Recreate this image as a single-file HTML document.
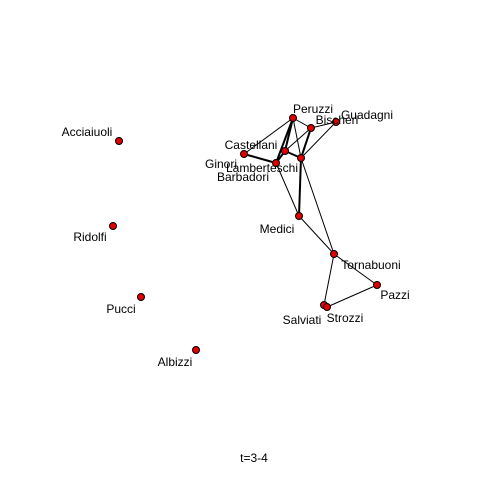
<!DOCTYPE html>
<html><head><meta charset="utf-8"><style>
html,body{margin:0;padding:0;background:#fff}
svg text{font-family:"Liberation Sans",Arial,sans-serif;font-size:12px;fill:#000}
</style></head><body>
<svg width="480" height="480" viewBox="0 0 480 480">
<rect width="480" height="480" fill="#fff"/>
<g id="edges"></g>
<g id="nodes"></g>
<text x="254" y="462" text-anchor="middle">t=3-4</text>
</svg>
<script>
const names=["Peruzzi","Bischeri","Guadagni","Castellani","Ginori","Barbadori","Lamberteschi","Medici","Tornabuoni","Pazzi","Salviati","Strozzi","Acciaiuoli","Ridolfi","Pucci","Albizzi"];
const xs=[293,311,336,244,285,301,276,299,334,377,324,327,119,113,141,196];
const ys=[118,128,122,154,151,158,163,216,254,285,305,307,141,226,297,350];
const labelX=[313,337,367,251,221,243,262,277,371,395,302,345,87,90,121,175];
const labelY=[113,124,119,149,168,181,172,233,269,299,324,322,136,241,313,366];
const edgeFrom=[0,0,0,0,0,1,1,1,2,4,4,3,6,5,5,7,8,8,9];
const edgeTo=[1,3,4,6,5,2,5,4,5,5,6,6,7,7,8,8,10,9,11];
const edgeW=[1,1,2,2,1,1,2,1,1,2,2,2,1,2,1,1,1,1,1];
const NS="http://www.w3.org/2000/svg";
const eg=document.getElementById("edges"),ng=document.getElementById("nodes");
for(let i=0;i<edgeFrom.length;i++){
 const l=document.createElementNS(NS,"line");
 l.setAttribute("x1",xs[edgeFrom[i]]);l.setAttribute("y1",ys[edgeFrom[i]]);
 l.setAttribute("x2",xs[edgeTo[i]]);l.setAttribute("y2",ys[edgeTo[i]]);
 l.setAttribute("stroke","#000");l.setAttribute("stroke-width",edgeW[i]);
 
 
 eg.appendChild(l);
}
for(let i=0;i<names.length;i++){
 const c=document.createElementNS(NS,"circle");
 c.setAttribute("cx",xs[i]);c.setAttribute("cy",ys[i]);c.setAttribute("r",3.5);
 c.setAttribute("fill","#e00000");c.setAttribute("stroke","#000");c.setAttribute("stroke-width",1);
 
 
 ng.appendChild(c);
}
for(let i=0;i<names.length;i++){
 const t=document.createElementNS(NS,"text");
 t.setAttribute("x",labelX[i]);t.setAttribute("y",labelY[i]);t.setAttribute("text-anchor","middle");
 t.textContent=names[i];
 
 
 ng.appendChild(t);
}
</script>
</body></html>
